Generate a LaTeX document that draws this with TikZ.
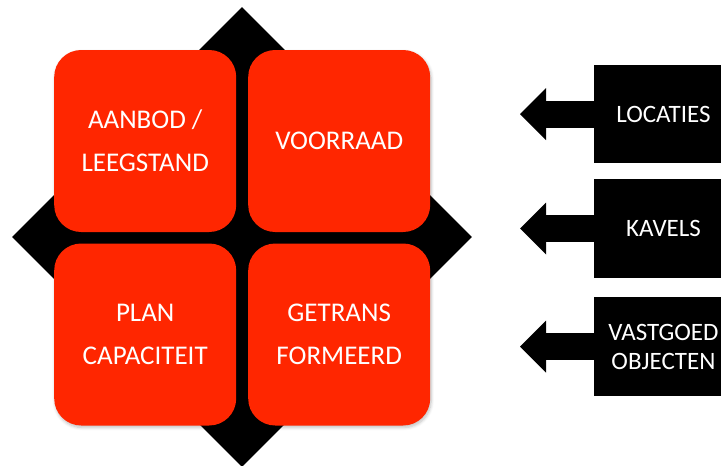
\documentclass[tikz,border=0pt]{standalone}
\usepackage{fontspec}
\setmainfont{Carlito}
\usetikzlibrary{arrows.meta,shadows.blur,shapes.geometric}
\definecolor{tilered}{RGB}{255,38,0}
\begin{document}
\begin{tikzpicture}[x=1pt,y=-1pt,
  tile/.style={fill=tilered, rounded corners=27pt, minimum width=182pt,
    minimum height=182pt, inner sep=0pt, text=white, align=center,
    font=\fontsize{27}{43}\selectfont,
    blur shadow={shadow xshift=1pt, shadow yshift=-2pt, shadow blur steps=6,
      shadow opacity=25, shadow blur radius=3pt}},
  source/.style={fill=black, minimum width=139pt, minimum height=98.5pt,
    inner sep=0pt, text=white, align=center,
    font=\fontsize{25}{28.7}\selectfont},
  feed/.style={line width=27pt,
    -{Triangle[width=52pt,length=26pt,line width=0pt]}}]
  \useasboundingbox (0,0) rectangle (721,466);
  \clip (0,0) rectangle (721,466);

  % black diamond behind the four tiles
  \node[diamond, fill=black, minimum width=460pt, minimum height=460pt,
    inner sep=0pt] (core) at (242,237) {};

  % the four quadrant tiles
  \node[tile] (aanbod)   at (145.2,141)   {AANBOD /\\LEEGSTAND};
  \node[tile] (voorraad) at (339.2,141)   {VOORRAAD};
  \node[tile] (plan)     at (145.2,334.5) {PLAN\\CAPACITEIT};
  \node[tile] (getrans)  at (339.2,334.5) {GETRANS\\FORMEERD};

  % input sources on the right
  \node[source] (locaties)  at (663.5,114.2) {LOCATIES};
  \node[source] (kavels)    at (663.5,228.5) {KAVELS};
  \node[source] (vastgoed)  at (663.5,346.7) {VASTGOED\\OBJECTEN};

  \coordinate (t1) at (520,114.2);
  \coordinate (t2) at (520,228.5);
  \coordinate (t3) at (520,346.7);

  \draw[feed] (locaties.west) -- (t1);
  \draw[feed] (kavels.west)   -- (t2);
  \draw[feed] (vastgoed.west) -- (t3);
\end{tikzpicture}
\end{document}
